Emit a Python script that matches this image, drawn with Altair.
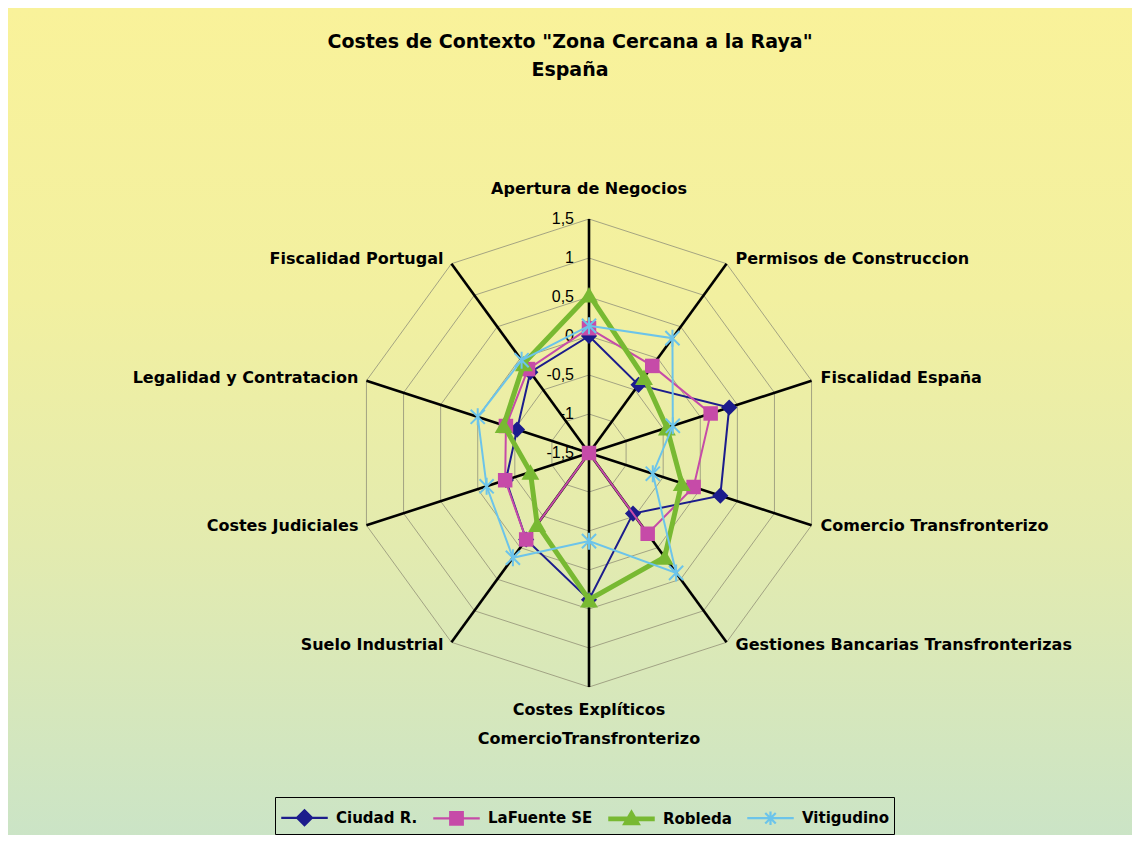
import altair as alt
import pandas as pd

# ---------------- data ----------------
categories = [
    "Apertura de Negocios",
    "Permisos de Construccion",
    "Fiscalidad España",
    "Comercio Transfronterizo",
    "Gestiones Bancarias Transfronterizas",
    "Costes Explíticos\nComercioTransfronterizo",
    "Suelo Industrial",
    "Costes Judiciales",
    "Legalidad y Contratacion",
    "Fiscalidad Portugal",
]
series_names = ["Ciudad R.", "LaFuente SE", "Robleda", "Vitigudino"]
ciudad = [0.00, -0.42, 0.39, 0.27, -0.54, 0.38, -0.13, -0.38, -0.53, -0.22]
lafuente = [0.10, -0.12, 0.14, -0.09, -0.22, -1.50, -0.13, -0.37, -0.38, -0.17]
robleda = [0.53, -0.30, -0.45, -0.25, 0.15, 0.38, -0.37, -0.71, -0.35, -0.08]
vitigudino = [0.13, 0.32, -0.37, -0.64, 0.40, -0.37, 0.16, -0.12, 0.00, -0.03]
tick_values = [-1.5, -1.0, -0.5, 0.0, 0.5, 1.0, 1.5]
tick_labels = ["-1,5", "-1", "-0,5", "0", "0,5", "1", "1,5"]

title_lines = ['Costes de Contexto "Zona Cercana a la Raya"', "España"]

# ---------------- styles ----------------
series_colors = ["#1c1c8c", "#c64ba8", "#78b932", "#6cc4ea"]
series_widths = [2, 2, 5, 2]
series_shapes = ["diamond", "square", "triangle-up", "M-1,-1L1,1M-1,1L1,-1M0,-1.2L0,1.2"]
series_sizes = [260, 210, 320, 200]
series_filled = [True, True, True, False]
FONT = "DejaVu Sans"
TICK_FONT = "Liberation Sans"
W, H = 1124, 827
PX = 78.0          # pixels per data unit
CX, CY = 581, 445  # centre of the radar inside the view
N = len(categories)
VMIN = tick_values[0]
RMAX = tick_values[-1] - VMIN

# ---------------- tables ----------------
all_values = [ciudad, lafuente, robleda, vitigudino]
rows = []
for s, vals in zip(series_names, all_values):
    for i in range(N + 1):
        rows.append({"series": s, "idx": i, "value": vals[i % N]})
series_df = pd.DataFrame(rows)

cat_df = pd.DataFrame({"category": categories, "idx": list(range(N))})
ring_rows = []
for lv in tick_values[1:]:
    for i in range(N + 1):
        ring_rows.append({"level": lv, "idx": i})
ring_df = pd.DataFrame(ring_rows)
tick_df = pd.DataFrame({"v": tick_values, "label": tick_labels})

xs = alt.Scale(domain=[-CX / PX, (W - CX) / PX], nice=False, zero=False)
ys = alt.Scale(domain=[-(H - CY) / PX, CY / PX], nice=False, zero=False)
X = lambda f: alt.X(f, type="quantitative", scale=xs, axis=None)
Y = lambda f: alt.Y(f, type="quantitative", scale=ys, axis=None)

ang = f"datum.idx * 2 * PI / {N}"

# background gradient
bg = alt.Chart(alt.Data(values=[{"a": 1}])).mark_rect(
    fill=alt.Gradient(
        gradient="linear",
        stops=[
            alt.GradientStop(color="#f9f29a", offset=0),
            alt.GradientStop(color="#f2f0a0", offset=0.35),
            alt.GradientStop(color="#e3ebaf", offset=0.65),
            alt.GradientStop(color="#cbe4c6", offset=1),
        ],
        x1=0, x2=0, y1=0, y2=1,
    )
).encode(x=alt.value(0), x2=alt.value(W), y=alt.value(0), y2=alt.value(H))

rings = alt.Chart(ring_df).transform_calculate(
    r=f"datum.level - ({VMIN})"
).transform_calculate(
    x=f"datum.r * sin({ang})", y=f"datum.r * cos({ang})"
).mark_line(color="#9b9b7e", strokeWidth=0.9).encode(
    x=X("x"), y=Y("y"), detail="level:N", order="idx:Q"
)

spokes = alt.Chart(cat_df).transform_calculate(
    x0="0", y0="0",
    xe=f"{RMAX} * sin({ang})", ye=f"{RMAX} * cos({ang})",
).mark_rule(color="black", strokeWidth=2.6).encode(
    x=X("x0"), y=Y("y0"), x2="xe:Q", y2="ye:Q"
)

ticks = alt.Chart(tick_df).transform_calculate(
    x="0", y=f"datum.v - ({VMIN})"
).mark_text(align="right", baseline="middle", dx=-15, font=TICK_FONT, fontSize=16,
            color="black").encode(x=X("x"), y=Y("y"), text="label:N")

LBL_R = RMAX + 5 / PX
cat_base = alt.Chart(cat_df).transform_calculate(
    x=f"{RMAX} * sin({ang})", y=f"{LBL_R} * cos({ang})", s=f"sin({ang})"
)
lab_kw = dict(font=FONT, fontSize=16, fontWeight="bold", color="black")
cat_right = cat_base.transform_filter("datum.s > 0.1").mark_text(
    align="left", baseline="middle", dx=9, dy=-1, **lab_kw
).encode(x=X("x"), y=Y("y"), text="category:N")
cat_left = cat_base.transform_filter("datum.s < -0.1").mark_text(
    align="right", baseline="middle", dx=-8, dy=-1, **lab_kw
).encode(x=X("x"), y=Y("y"), text="category:N")
cat_top = cat_base.transform_filter("abs(datum.s) <= 0.1 && datum.y > 0").mark_text(
    align="center", baseline="bottom", dy=-17, **lab_kw
).encode(x=X("x"), y=Y("y"), text="category:N")
cat_bottom = cat_base.transform_filter("abs(datum.s) <= 0.1 && datum.y < 0").mark_text(
    align="center", baseline="top", dy=10, lineBreak="\n", lineHeight=29, **lab_kw
).encode(x=X("x"), y=Y("y"), text="category:N")

series_base = alt.Chart(series_df).transform_calculate(
    r=f"datum.value - ({VMIN})"
).transform_calculate(
    x=f"datum.r * sin({ang})", y=f"datum.r * cos({ang})"
)

series_layers = []
for s, c, w, shp, sz, fl in zip(series_names, series_colors, series_widths,
                                series_shapes, series_sizes, series_filled):
    sb = series_base.transform_filter(alt.FieldEqualPredicate(field="series", equal=s))
    ln = sb.mark_line(strokeWidth=w, color=c).encode(
        x=X("x"), y=Y("y"), order="idx:Q",
    )
    pt = sb.transform_filter("datum.idx < %d" % N).mark_point(
        filled=fl, opacity=1, shape=shp, size=sz, strokeWidth=2, color=c
    ).encode(x=X("x"), y=Y("y"))
    series_layers += [ln, pt]

LINE = "M-1.55,0L1.55,0"
legend_paths = [
    LINE + "M-0.5,0L0,-0.5L0.5,0L0,0.5ZM-0.33,0L0,-0.33L0.33,0L0,0.33ZM-0.16,0L0,-0.16L0.16,0L0,0.16Z",
    LINE + "M-0.42,-0.42L0.42,-0.42L0.42,0.42L-0.42,0.42ZM-0.28,-0.28L0.28,-0.28L0.28,0.28L-0.28,0.28Z"
           "M-0.14,-0.14L0.14,-0.14L0.14,0.14L-0.14,0.14ZM-0.05,0L0.05,0",
    LINE + "M-1.55,-0.08L1.55,-0.08M-1.55,0.08L1.55,0.08"
           "M-0.5,0.35L0,-0.5L0.5,0.35ZM-0.33,0.22L0,-0.33L0.33,0.22ZM-0.16,0.1L0,-0.16L0.16,0.1Z",
    LINE + "M-0.35,-0.35L0.35,0.35M-0.35,0.35L0.35,-0.35M0,-0.45L0,0.45",
]
leg = alt.Legend(
    title=None, orient="none", legendX=267, legendY=789, direction="horizontal",
    columns=4, labelFont=FONT, labelFontSize=15, labelFontWeight="bold",
    labelColor="black", symbolSize=900, symbolOffset=9, symbolStrokeWidth=2.2,
    symbolOpacity=1, padding=4, columnPadding=10, labelOffset=15, strokeColor="black",
)
legend_layer = series_base.transform_filter("datum.idx == 0").mark_point(
    filled=False, opacity=0
).encode(
    x=X("x"), y=Y("y"),
    shape=alt.Shape("series:N", scale=alt.Scale(domain=series_names, range=legend_paths), legend=leg),
    stroke=alt.Stroke("series:N", scale=alt.Scale(domain=series_names, range=series_colors), legend=leg),
)

chart = alt.layer(
    bg, rings, spokes, ticks, cat_right, cat_left, cat_top, cat_bottom,
    *series_layers, legend_layer,
).properties(
    width=W, height=H,
    title=alt.TitleParams(text=title_lines, font=FONT, fontSize=19, fontWeight="bold",
                          anchor="middle", offset=-72, lineHeight=28, color="black"),
    padding=0, autosize=alt.AutoSizeParams(type="none"),
).configure_view(stroke="black", strokeWidth=3).configure(background="white")

chart.save("out.html", embed_options={"renderer": "svg", "actions": False})
